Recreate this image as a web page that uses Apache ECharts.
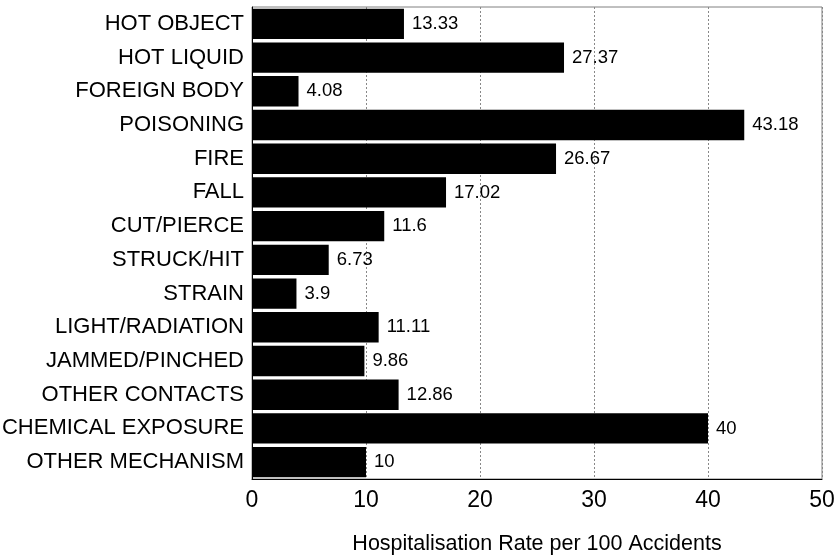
<!DOCTYPE html>
<html>
<head>
<meta charset="utf-8">
<script src="https://cdn.jsdelivr.net/npm/echarts@6/dist/echarts.min.js"></script>
<style>
html,body{margin:0;padding:0;background:#fff;}
#c{width:834px;height:555px;}
</style>
</head>
<body>
<div id="c"></div>
<script>
const categories = ["HOT OBJECT","HOT LIQUID","FOREIGN BODY","POISONING","FIRE","FALL","CUT/PIERCE","STRUCK/HIT","STRAIN","LIGHT/RADIATION","JAMMED/PINCHED","OTHER CONTACTS","CHEMICAL EXPOSURE","OTHER MECHANISM"];
const rates = [13.33,27.37,4.08,43.18,26.67,17.02,11.6,6.73,3.9,11.11,9.86,12.86,40,10];
const xTicks = {min:0, max:50, interval:10};
const xTitle = "Hospitalisation Rate per 100 Accidents";

const chart = echarts.init(document.getElementById('c'), null, {renderer:'canvas'});
chart.setOption({
  animation:false,
  backgroundColor:'#fff',
  textStyle:{fontFamily:'"Liberation Sans", Arial, sans-serif'},
  grid:{left:252, right:12, top:7, bottom:76, show:true, borderColor:'#808080', borderWidth:1, containLabel:false, outerBoundsMode:'none'},
  xAxis:{
    type:'value', min:xTicks.min, max:xTicks.max, interval:xTicks.interval,
    name:xTitle, nameLocation:'middle', nameGap:54,
    nameTextStyle:{fontSize:21.5, color:'#000'},
    axisLine:{show:true, lineStyle:{color:'#000'}},
    axisTick:{show:false},
    axisLabel:{fontSize:23, color:'#000', margin:10},
    splitLine:{show:true, lineStyle:{color:'#888', type:[2,2], width:1}}
  },
  yAxis:{
    type:'category', data:categories, inverse:true,
    axisLine:{show:true, lineStyle:{color:'#000'}},
    axisTick:{show:false},
    axisLabel:{fontSize:22, color:'#000', margin:8},
    splitLine:{show:false}
  },
  series:[{
    type:'bar', data:rates, barCategoryGap:'10%',
    itemStyle:{color:'#000'},
    label:{show:true, position:'right', distance:8, fontSize:18.5, color:'#000'}
  }]
});
</script>
</body>
</html>
